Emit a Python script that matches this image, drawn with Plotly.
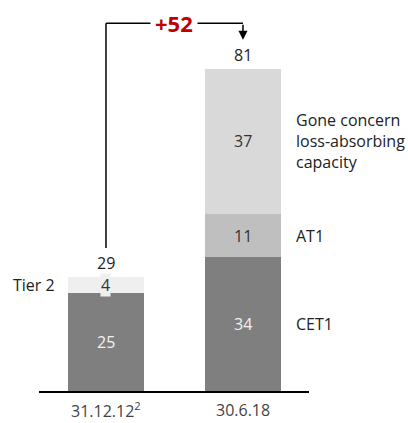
import plotly.graph_objects as go

# Loss-absorbing capacity, CHF bn
dates = ["31.12.12", "30.6.18"]
date_labels = ["31.12.12<sup>2</sup>", "30.6.18"]
cet1 = [25, 34]
at1 = [0, 11]
tier2 = [4, 0]
gone_concern = [0, 37]
totals = [29, 81]          # reported totals (rounded)
change_label = "+52"

series = [
    ("CET1", cet1, "#7f7f7f", "#f2f2f2"),
    ("AT1", at1, "#bfbfbf", "#333333"),
    ("Tier 2", tier2, "#efefef", "#333333"),
    ("Gone concern loss-absorbing capacity", gone_concern, "#d9d9d9", "#333333"),
]

FONT = "Open Sans"
FS = 16
x_pos = list(range(len(dates)))

fig = go.Figure()
annotations = []
bases = [0] * len(dates)
for name, values, color, txt_color in series:
    fig.add_trace(go.Bar(
        x=x_pos, y=values, name=name, marker=dict(color=color, line=dict(width=0)),
        width=0.555, hoverinfo="skip",
    ))
    for i, v in enumerate(values):
        if v:
            annotations.append(dict(
                x=x_pos[i], y=bases[i] + v / 2, text=str(v), showarrow=False,
                font=dict(family=FONT, size=FS, color=txt_color),
                bgcolor=color if v < 6 else None, borderpad=0,
            ))
            bases[i] += v

# totals above the bars
for i, t in enumerate(totals):
    annotations.append(dict(
        x=x_pos[i], y=bases[i], yshift=14, text=str(t), showarrow=False,
        font=dict(family=FONT, size=FS, color="#222222"),
    ))

# series labels beside the bars
mid = lambda lo, v: lo + v / 2
lbl_font = dict(family=FONT, size=FS, color="#222222")
annotations += [
    dict(x=1.37, y=mid(cet1[1] + at1[1], gone_concern[1]), xanchor="left",
         text="Gone concern<br>loss-absorbing<br>capacity", align="left", showarrow=False,
         font=lbl_font),
    dict(x=1.37, y=mid(cet1[1], at1[1]), xanchor="left", text="AT1", showarrow=False,
         font=lbl_font),
    dict(x=1.37, y=mid(0, cet1[1]), xanchor="left", text="CET1", showarrow=False,
         font=lbl_font),
    dict(x=-0.36, y=mid(cet1[0], tier2[0]), xanchor="right", text="Tier 2", showarrow=False,
         font=lbl_font),
]

# date labels under the axis
for i, lbl in enumerate(date_labels):
    annotations.append(dict(
        x=x_pos[i], y=0, yshift=-19, text=lbl, showarrow=False,
        font=dict(family=FONT, size=FS, color="#444444"),
    ))

# bracket showing the increase
top_y = 93.6
shapes = [
    dict(type="line", x0=0, x1=0, y0=bases[0] + 7.4, y1=top_y,
         line=dict(color="black", width=1.5)),
    dict(type="line", x0=0, x1=1, y0=top_y, y1=top_y, line=dict(color="black", width=1.5)),
]
annotations.append(dict(
    x=1, y=bases[1] + 7.4, ax=1, ay=top_y, xref="x", yref="y", axref="x", ayref="y",
    showarrow=True, arrowhead=2, arrowsize=1.2, arrowwidth=1.5, arrowcolor="black", text="",
))
annotations.append(dict(
    x=0.5, y=top_y, text="<b>" + change_label + "</b>", showarrow=False,
    bgcolor="white", borderpad=4,
    font=dict(family=FONT, size=22, color="#c00000"),
))

fig.update_layout(
    barmode="stack", width=408, height=423,
    margin=dict(l=39, r=99, t=0, b=32),
    paper_bgcolor="white", plot_bgcolor="white", showlegend=False,
    xaxis=dict(range=[-0.489, 1.482], showticklabels=False, showgrid=False, zeroline=False,
               showline=True, linecolor="black", linewidth=1.5, ticks=""),
    yaxis=dict(range=[0, 99.5], visible=False),
    annotations=annotations, shapes=shapes,
)

fig.write_html("out.html")
